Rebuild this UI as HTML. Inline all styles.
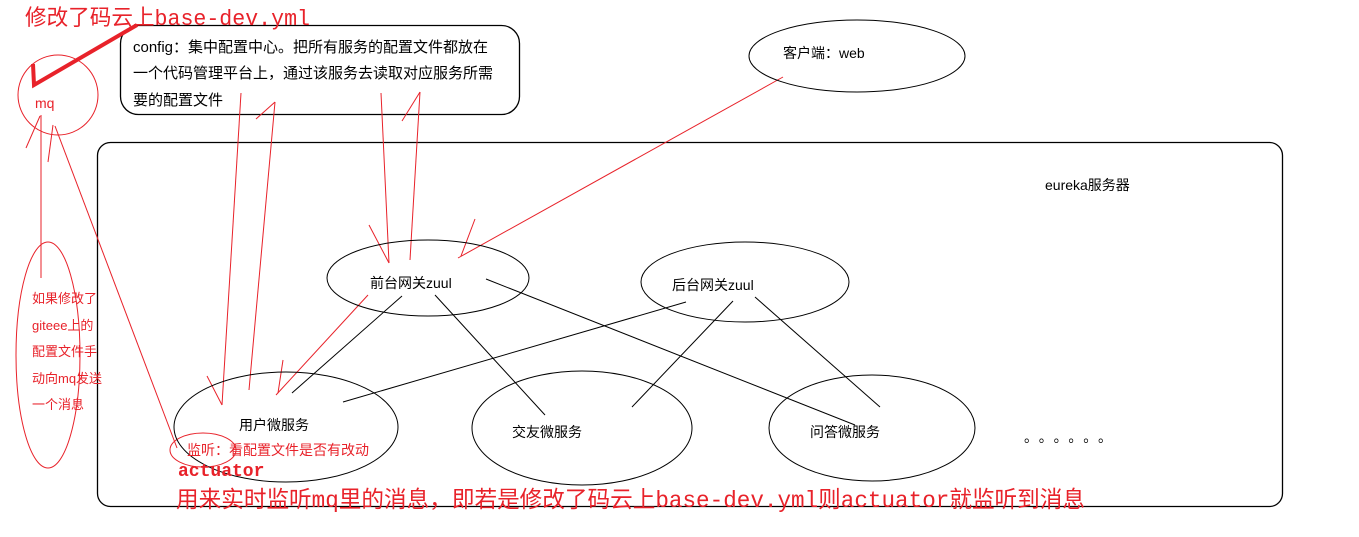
<!DOCTYPE html>
<html><head><meta charset="utf-8"><style>
html,body{margin:0;padding:0;background:#fff;}
svg{display:block;}
text{font-family:"Liberation Sans","Noto Sans CJK SC",sans-serif;}
text.mono{font-family:"Liberation Mono","Noto Sans CJK SC",monospace;}
</style></head><body>
<svg width="1359" height="537" xmlns="http://www.w3.org/2000/svg">
<rect x="97.5" y="142.5" width="1185" height="364" rx="13" fill="none" stroke="#000" stroke-width="1.3"/>
<rect x="120.5" y="25.5" width="399" height="89" rx="18" fill="none" stroke="#000" stroke-width="1.3"/>
<text x="133" y="52" font-size="15" fill="#000">config：集中配置中心。把所有服务的配置文件都放在</text>
<text x="133" y="78" font-size="15" fill="#000">一个代码管理平台上，通过该服务去读取对应服务所需</text>
<text x="133" y="105" font-size="15" fill="#000">要的配置文件</text>

<text class="mono" x="25" y="25" font-size="22" fill="#e8222a" textLength="285" lengthAdjust="spacingAndGlyphs">修改了码云上base-dev.yml</text>
<polyline points="33,64 34,85 137,25" fill="none" stroke="#e8222a" stroke-width="4"/>

<g fill="none" stroke="#e8222a" stroke-width="1">
<circle cx="58" cy="95" r="40"/>
<ellipse cx="48" cy="355" rx="32" ry="113"/>
<ellipse cx="203" cy="450" rx="33" ry="17"/>
<line x1="41" y1="115" x2="41" y2="278"/>
<line x1="26" y1="148" x2="40" y2="116"/>
<line x1="48" y1="162" x2="53" y2="125"/>
<line x1="55" y1="126" x2="177" y2="448"/>
<line x1="241" y1="93" x2="222" y2="405"/>
<line x1="207" y1="376" x2="222" y2="405"/>
<line x1="275" y1="102" x2="249" y2="390"/>
<line x1="256" y1="119" x2="275" y2="102"/>
<line x1="368" y1="295" x2="276" y2="395"/>
<line x1="283" y1="360" x2="278" y2="393"/>
<line x1="381" y1="93" x2="389" y2="263"/>
<line x1="369" y1="225" x2="389" y2="263"/>
<line x1="420" y1="92" x2="410" y2="260"/>
<line x1="402" y1="121" x2="420" y2="92"/>
<line x1="783" y1="77" x2="458" y2="258"/>
<line x1="475" y1="219" x2="461" y2="256"/>
</g>
<text x="35" y="108" font-size="14" fill="#e8222a">mq</text>
<g font-size="13" fill="#e8222a">
<text x="32" y="303">如果修改了</text>
<text x="32" y="330">giteee上的</text>
<text x="32" y="356">配置文件手</text>
<text x="32" y="383">动向mq发送</text>
<text x="32" y="409">一个消息</text>
</g>

<g fill="none" stroke="#000" stroke-width="1">
<ellipse cx="857" cy="56" rx="108" ry="36"/>
<ellipse cx="428" cy="278" rx="101" ry="38"/>
<ellipse cx="745" cy="282" rx="104" ry="40"/>
<ellipse cx="286" cy="427" rx="112" ry="55"/>
<ellipse cx="582" cy="428" rx="110" ry="57"/>
<ellipse cx="872" cy="428" rx="103" ry="53"/>
<line x1="402" y1="296" x2="292" y2="393"/>
<line x1="435" y1="295" x2="545" y2="415"/>
<line x1="486" y1="279" x2="855" y2="425"/>
<line x1="686" y1="302" x2="343" y2="402"/>
<line x1="733" y1="301" x2="632" y2="407"/>
<line x1="755" y1="297" x2="880" y2="407"/>
</g>
<g font-size="14" fill="#000">
<text x="783" y="58">客户端：web</text>
<text x="1045" y="190">eureka服务器</text>
<text x="370" y="288">前台网关zuul</text>
<text x="672" y="290">后台网关zuul</text>
<text x="239" y="430">用户微服务</text>
<text x="512" y="437">交友微服务</text>
<text x="810" y="437">问答微服务</text>
<text x="1024" y="442" textLength="88" lengthAdjust="spacing">。。。。。。</text>
</g>
<text x="187" y="455" font-size="14" fill="#e8222a">监听：看配置文件是否有改动</text>
<text class="mono" x="178" y="476" font-size="18" font-weight="bold" fill="#e8222a">actuator</text>
<text class="mono" x="176" y="507" font-size="23" fill="#e8222a" textLength="909" lengthAdjust="spacingAndGlyphs">用来实时监听mq里的消息，即若是修改了码云上base-dev.yml则actuator就监听到消息</text>
</svg>
</body></html>
